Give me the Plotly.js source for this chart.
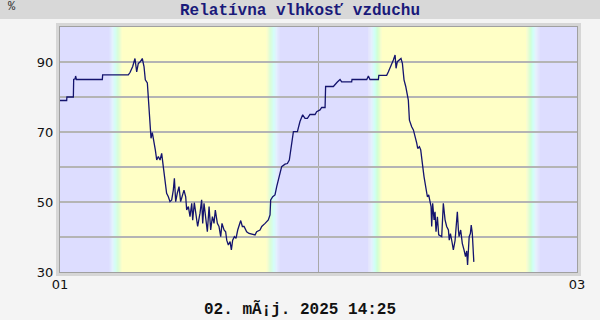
<!DOCTYPE html>
<html>
<head>
<meta charset="utf-8">
<script src="https://cdn.plot.ly/plotly-3.0.1.min.js"></script>
<style>html,body{margin:0;padding:0;background:#f4f4f4;}#chart{width:600px;height:320px;}</style>
</head>
<body>
<div id="chart"></div>
<script>
// hours since 01 May 2025 00:00
const hours = [
0.00,0.62,0.64,1.24,1.27,1.40,1.45,1.52,3.93,3.96,6.34,6.50,6.75,6.96,7.12,7.27,7.43,7.64,7.80,7.92,
8.11,8.20,8.29,8.39,8.45,8.57,8.67,8.85,8.98,9.13,9.29,9.44,9.59,9.75,9.90,10.06,10.21,10.37,10.52,10.62,
10.74,10.89,11.05,11.20,11.36,11.51,11.67,11.76,11.92,12.07,12.23,12.32,12.47,12.63,12.78,12.94,13.00,13.15,13.25,13.37,
13.53,13.68,13.84,13.99,14.15,14.30,14.42,14.61,14.76,14.92,15.04,15.23,15.38,15.48,15.63,15.79,15.91,16.03,16.19,16.34,
16.50,16.65,16.78,16.93,17.09,17.33,17.55,18.11,18.26,18.57,18.73,19.04,19.34,19.50,19.56,19.75,19.96,20.12,20.27,20.43,
20.58,20.89,21.11,21.29,21.42,21.51,21.67,22.04,22.28,22.53,22.75,22.97,23.21,23.68,23.83,24.14,24.30,24.61,24.66,25.38,
25.53,25.75,26.00,26.15,27.08,27.11,28.48,28.63,28.78,29.56,29.60,30.33,30.49,30.64,30.80,30.95,31.11,31.20,31.32,31.51,
31.66,31.79,31.94,32.10,32.25,32.34,32.44,32.56,32.65,32.81,32.96,33.12,33.21,33.37,33.49,33.58,33.68,33.80,33.89,33.99,
34.11,34.23,34.36,34.45,34.51,34.60,34.73,34.82,34.91,35.04,35.16,35.44,35.59,35.75,35.90,36.06,36.14,36.25,36.40,36.52,
36.68,36.89,36.99,37.05,37.20,37.35,37.51,37.65,37.76,37.84,37.99,38.10,38.18,38.28,38.42
];
const humidity = [
79,79,80,80,85,85.2,86,85,85,86.3,86.3,87,88.7,91,87.2,89.6,90,91,88.7,84.9,
84,80,74.4,70.6,68.2,69.8,68.2,64.9,62,63,62,63.9,60.1,55.3,52.5,51.5,50.1,50.6,53.4,56.8,
50.1,52.5,54.4,50.1,51.5,53.4,51.5,47.7,48.7,45.8,49.6,44.8,49.8,45.8,43,45.8,46.8,50.6,43.9,49.6,
45.8,41.5,48.7,42,45.8,43.9,47.7,43.9,43,40.1,43.9,42,41.5,39.1,37.7,38.7,36.3,39.1,40.1,39.6,
42,43.4,44.7,43,43,41.5,41,40.6,41.5,42,43,43.9,44.9,46.3,50.6,51.5,52,54.4,56.3,58.2,
60.1,60.8,61,62,65.3,67.7,70.1,70.1,73,74.9,73.9,73.9,75,75,75.8,76.3,77,77,83,83,
83.6,84.3,85,84.3,84.3,85,85,86,85,85,86.2,86.2,87.2,88.2,89.6,90.6,92,88.2,90.1,90.6,
91,89.6,84.9,83,80.6,79.1,73.4,72,71.5,70.6,69.1,66.8,65.3,65.8,64.9,61.5,60.1,57.2,55.3,53.4,
51.5,52,50.1,48.7,43,49.6,44.9,47.2,41.5,45.8,40.6,40.1,49.6,44.9,43,42,39.1,41,38.5,36.3,
39,47.2,42,40.1,42,38.2,36.3,34.4,36,32,40.1,41,43.4,41,32.9
];
// day/night transitions (hours): [start, end]
const sunrises = [[4.55,5.76],[28.63,29.87]];
const sunsets  = [[19.2,20.4],[43.3,44.5]];
const xTickVals = [0,24,48];
const xTickText = ['01','','03'];
const yTickVals = [30,40,50,60,70,80,90];
const yTickText = ['30','','50','','70','','90'];

const NIGHT = [221,221,255], DAY = [255,255,198];
const stops = [[0,NIGHT],[0.25,[228,240,255]],[0.45,[205,255,250]],[0.7,[210,255,210]],[1,DAY]];
function colAt(t){
  for(let i=1;i<stops.length;i++){
    if(t<=stops[i][0]){
      const a=stops[i-1],b=stops[i];const f=(t-a[0])/(b[0]-a[0]);
      const c=a[1].map((v,k)=>Math.round(v+(b[1][k]-v)*f));
      return 'rgb('+c.join(',')+')';
    }
  }
  return 'rgb('+DAY.join(',')+')';
}
const shapes=[];
function rect(x0,x1,color){shapes.push({type:'rect',xref:'x',yref:'paper',x0:x0,x1:x1,y0:0,y1:1,fillcolor:color,line:{width:0},layer:'below'});}
function grad(x0,x1,rev){
  const N=14;
  for(let i=0;i<N;i++){
    const t=(i+0.5)/N;
    rect(x0+(x1-x0)*i/N, x0+(x1-x0)*(i+1)/N+0.01, colAt(rev?1-t:t));
  }
}
rect(0,sunrises[0][0],'rgb(221,221,255)');
grad(sunrises[0][0],sunrises[0][1],false);
rect(sunrises[0][1],sunsets[0][0],'rgb(255,255,198)');
grad(sunsets[0][0],sunsets[0][1],true);
rect(sunsets[0][1],sunrises[1][0],'rgb(221,221,255)');
grad(sunrises[1][0],sunrises[1][1],false);
rect(sunrises[1][1],sunsets[1][0],'rgb(255,255,198)');
grad(sunsets[1][0],sunsets[1][1],true);
rect(sunsets[1][1],48,'rgb(221,221,255)');

// title band and outer frame (paper coords)
shapes.push({type:'rect',xref:'paper',yref:'paper',x0:-0.2,x1:1.2,y0:1+8/245,y1:1.2,fillcolor:'#d8d8d8',line:{width:0},layer:'below'});
shapes.push({type:'rect',xref:'paper',yref:'paper',x0:-2.5/517,x1:1+2.5/517,y0:-2.5/245,y1:1+2.5/245,fillcolor:'rgba(0,0,0,0)',line:{width:3,color:'#d6d6d6'},layer:'below'});

const trace={x:hours,y:humidity,type:'scatter',mode:'lines',line:{color:'#14146e',width:1.3},hoverinfo:'skip'};
const layout={
  width:600,height:320,
  margin:{l:60,r:23,t:27,b:48},
  paper_bgcolor:'#f4f4f4',plot_bgcolor:'rgba(0,0,0,0)',
  showlegend:false,
  title:{text:'Relatívna vlhkosť vzduchu',font:{family:'Liberation Mono, monospace',size:16,color:'#1a1a7a',weight:'bold'},x:0.5,xanchor:'center',y:1-9/320,yanchor:'middle',yref:'container'},
  xaxis:{range:[0,48],tickvals:xTickVals,ticktext:xTickText,showgrid:true,gridcolor:'#a8a8a8',gridwidth:1.5,zeroline:false,
    showline:true,mirror:true,linecolor:'#a0a0a0',linewidth:1,ticks:'',tickfont:{family:'DejaVu Sans',size:13,color:'#111'},fixedrange:true},
  yaxis:{range:[30,100],tickvals:yTickVals,ticktext:yTickText,showgrid:true,gridcolor:'#b4b4b4',gridwidth:1.5,zeroline:false,
    showline:true,mirror:true,linecolor:'#a0a0a0',linewidth:1,ticks:'outside',ticklen:3,tickcolor:'rgba(0,0,0,0)',
    tickfont:{family:'DejaVu Sans',size:13,color:'#111'},fixedrange:true},
  shapes:shapes,
  annotations:[
    {text:'%',xref:'paper',yref:'paper',x:-48/517,y:1+20/245,xanchor:'center',yanchor:'middle',showarrow:false,font:{family:'Liberation Mono, monospace',size:12,color:'#333'}},
    {text:'02. mÃ¡j. 2025 14:25',xref:'paper',yref:'paper',x:0.465,y:-37.5/245,xanchor:'center',yanchor:'middle',showarrow:false,borderpad:0,font:{family:'Liberation Mono, monospace',size:16,color:'#111',weight:'bold'}}
  ]
};
Plotly.newPlot('chart',[trace],layout,{staticPlot:true,displayModeBar:false});
</script>
</body>
</html>
